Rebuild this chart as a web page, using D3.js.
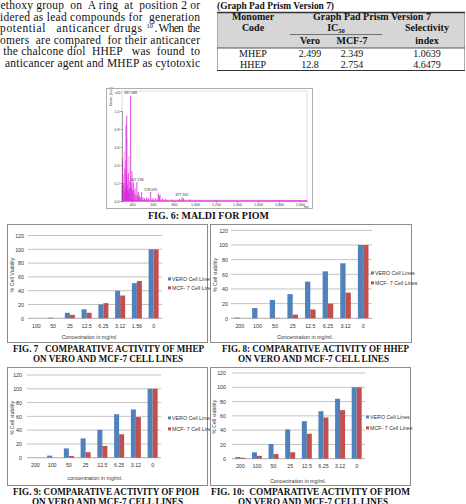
<!DOCTYPE html>
<meta charset="utf-8">

<head>
    <title>Comparative activity on VERO and MCF-7 cell lines</title>
</head>

<style>
    body {
        margin: 0;
        background-color: #fff;
    }

    svg {
        display: block;
    }

    .serif {
        font-family: "Liberation Serif", "Times New Roman", serif;
        fill: #111;
    }

    .para {
        white-space: pre;
    }

    .cap {
        font-family: "Liberation Serif", "Times New Roman", serif;
        font-weight: 700;
        font-size: 10.5px;
        fill: #111;
        white-space: pre;
    }

    .axis text {
        font-family: "Liberation Sans", Arial, sans-serif;
        font-size: 5.3px;
        fill: #333;
    }

    .axis path {
        display: none;
    }

    .small {
        font-family: "Liberation Sans", Arial, sans-serif;
        font-size: 5.3px;
        fill: #333;
    }
</style>

<body>
    <svg width="466" height="504"></svg>
</body>

<script src="https://d3js.org/d3.v7.min.js"></script>

<script>
    // text from the page
    var paraLines = [
        "ethoxy group  on  A ring  at  position 2 or",
        "idered as lead compounds for  generation",
        "potential   anticancer drugs",
        "omers  are compared  for their anticancer",
        "the chalcone diol  HHEP   was  found  to",
        "anticancer agent and MHEP as cytotoxic"
    ];

    // IC50 table
    var tblHead = ["Vero", "MCF-7"];
    var tblRows = [
        ["MHEP", "2.499", "2.349", "1.0639"],
        ["HHEP", "12.8", "2.754", "4.6479"]
    ];

    // % cell viability
    var concMhep = ["100", "50", "25", "12.5", "6.25", "3.12", "1.56", "0"];
    var concB = ["200", "100", "50", "25", "12.5", "6.25", "3.12", "0"];
    var mhepVero = [0, 1, 8, 13, 20, 40, 51, 100];
    var mhepMcf = [0, 0, 5, 8, 22, 33, 54, 100];
    var hhepVero = [1, 14, 25, 33, 50, 64, 75, 100];
    var hhepMcf = [0, 0, 0.5, 5, 12, 20, 35, 100];
    var piohVero = [0, 3, 13.5, 28, 40.5, 63, 70, 100];
    var piohMcf = [0, 0, 2.5, 8, 17, 34, 59, 100];
    var piomVero = [2.3, 9, 20.5, 41, 52.5, 66.5, 84, 100];
    var piomMcf = [1.4, 4, 6.5, 9, 35, 57.7, 68, 100];
    var yTicks = [0, 20, 40, 60, 80, 100, 120];
    var seriesNames = ["VERO Cell Lines", "MCF- 7 Cell Lines"];

    // MALDI spectrum (intensity x10^4)
    var mzVals = [306, 310, 316, 322, 327, 333, 338, 343, 347, 350, 355, 360, 365, 370, 376, 381, 387, 393, 400, 406, 413, 420,
        429, 437, 447, 453, 460, 470, 480, 492, 505, 520, 540, 555, 578, 600, 625, 650, 660, 667, 690, 720, 780, 850, 877, 890, 950, 1050, 1200];
    var intVals = [0.18, 0.47, 0.12, 0.2, 0.09, 0.36, 0.15, 0.84, 0.3, 0.95, 0.18, 0.12, 0.31, 0.1, 0.14, 0.22, 1.17, 0.15, 0.33, 0.12, 0.21, 0.08,
        0.14, 0.07, 0.21, 0.06, 0.1, 0.05, 0.04, 0.1, 0.04, 0.03, 0.04, 0.03, 0.1, 0.03, 0.03, 0.085, 0.06, 0.07, 0.03, 0.02, 0.015, 0.02, 0.04, 0.03, 0.015, 0.01, 0.008];
    var pinkMz = [319, 325, 336, 352, 362, 372, 398, 418, 470, 655];
    var pinkInt = [0.3, 0.55, 0.45, 0.7, 0.25, 0.5, 0.2, 0.12, 0.08, 0.06];
    var peakLabels = ["387.088", "447.238", "578.095", "877.342"];
    var peakLabelMz = [387, 447, 578, 877];
    var peakLabelInt = [1.17, 0.21, 0.10, 0.04];
    var mzTicks = [400, 600, 800, 1000, 1200, 1400, 1600, 1800, 2000];
    var intTicks = [0, 0.2, 0.4, 0.6, 0.8, 1.0];

    var svg = d3.select("svg");

    // ---- paragraph, left top
    var paraX = [0.5, 0, 0, 0, 3.3, 5];
    var paraY = [9, 20.5, 32, 43.5, 55, 66.5];
    paraLines.forEach(function (t, i) {
        var right = i == 2 ? 142 : 200;
        svg.append("text")
            .attr("class", "serif para")
            .attr("x", paraX[i])
            .attr("y", paraY[i])
            .attr("font-size", 11.5)
            .attr("textLength", right - paraX[i])
            .attr("lengthAdjust", "spacing")
            .text(t);
    });
    svg.append("text").attr("class", "serif").attr("x", 146.5).attr("y", 27.5).attr("font-size", 6.5).text("10");
    svg.append("text").attr("class", "serif para").attr("x", 154.5).attr("y", paraY[2]).attr("font-size", 11.5)
        .attr("textLength", 45.5).attr("lengthAdjust", "spacing").text(". When  the");

    // ---- table, right top
    svg.append("text").attr("class", "serif").attr("x", 217).attr("y", 9)
        .attr("font-size", 10).attr("font-weight", 700)
        .attr("textLength", 117).attr("lengthAdjust", "spacingAndGlyphs")
        .text("(Graph Pad Prism Version 7)");

    svg.append("rect").attr("x", 217.5).attr("y", 12.5).attr("width", 247).attr("height", 35.5)
        .attr("fill", "#d6d6d6");
    svg.append("rect").attr("x", 217.5).attr("y", 12.5).attr("width", 247).attr("height", 58)
        .attr("fill", "none").attr("stroke", "#999").attr("stroke-width", 0.8);
    svg.append("line").attr("x1", 217).attr("x2", 465).attr("y1", 12.5).attr("y2", 12.5)
        .attr("stroke", "#333").attr("stroke-width", 1.4);
    svg.append("line").attr("x1", 217).attr("x2", 465).attr("y1", 48).attr("y2", 48)
        .attr("stroke", "#444").attr("stroke-width", 0.9);
    svg.append("line").attr("x1", 217).attr("x2", 465).attr("y1", 70.5).attr("y2", 70.5)
        .attr("stroke", "#333").attr("stroke-width", 1.2);
    svg.append("line").attr("x1", 290).attr("x2", 382).attr("y1", 34.5).attr("y2", 34.5)
        .attr("stroke", "#444").attr("stroke-width", 0.7);

    var colX = [253, 310, 352, 427];
    var head = svg.append("g").attr("class", "serif").attr("font-size", 10).attr("font-weight", 700)
        .attr("text-anchor", "middle");
    head.append("text").attr("x", colX[0]).attr("y", 20).text("Monomer");
    head.append("text").attr("x", colX[0]).attr("y", 31).text("Code");
    head.append("text").attr("x", 372).attr("y", 20).text("Graph Pad Prism Version 7");
    var ic = head.append("text").attr("x", 336).attr("y", 31);
    ic.append("tspan").text("IC");
    ic.append("tspan").attr("font-size", 6.5).attr("dy", 2).text("50");
    head.append("text").attr("x", colX[3]).attr("y", 31).text("Selectivity");
    head.append("text").attr("x", colX[3]).attr("y", 44).text("index");
    head.selectAll("text.sub").data(tblHead).join("text")
        .attr("class", "sub")
        .attr("x", function (d, i) { return colX[i + 1]; })
        .attr("y", 44)
        .text(function (d) { return d; });

    svg.append("g").attr("class", "serif").attr("font-size", 10).attr("text-anchor", "middle")
        .selectAll("g").data(tblRows).join("g")
        .attr("transform", function (d, i) { return "translate(0," + (57 + i * 11) + ")"; })
        .selectAll("text").data(function (d) { return d; }).join("text")
        .attr("x", function (d, i) { return colX[i]; })
        .text(function (d) { return d; });

    // ---- MALDI spectrum
    svg.append("rect").attr("x", 106.5).attr("y", 88.5).attr("width", 206).attr("height", 120)
        .attr("fill", "#fff").attr("stroke", "#999").attr("stroke-width", 0.8);
    svg.append("rect").attr("x", 122).attr("y", 91).attr("width", 185).attr("height", 110)
        .attr("fill", "none").attr("stroke", "#bbb").attr("stroke-width", 0.5);

    var mx = d3.scaleLinear().domain([305, 2067]).range([122, 307]);
    var my = d3.scaleLinear().domain([0, 1.0]).range([201, 111]);

    var ms = svg.append("g");
    ms.append("line")
        .attr("x1", mx(305)).attr("x2", mx(2067))
        .attr("y1", my(0.008)).attr("y2", my(0.006))
        .attr("stroke", "#e030e0").attr("stroke-width", 0.8);
    ms.selectAll("line.pk2").data(pinkMz).join("line")
        .attr("class", "pk2")
        .attr("x1", function (d) { return mx(d); }).attr("x2", function (d) { return mx(d); })
        .attr("y1", my(0))
        .attr("y2", function (d, i) { return my(pinkInt[i]); })
        .attr("stroke", "#f3a3f3").attr("stroke-width", 1);
    ms.selectAll("line.pk").data(mzVals).join("line")
        .attr("class", "pk")
        .attr("x1", function (d) { return mx(d); }).attr("x2", function (d) { return mx(d); })
        .attr("y1", my(0))
        .attr("y2", function (d, i) { return my(intVals[i]); })
        .attr("stroke", "#dc1edc").attr("stroke-width", 0.8);
    ms.selectAll("text.pl").data(peakLabels).join("text")
        .attr("class", "pl")
        .attr("x", function (d, i) { return mx(peakLabelMz[i]); })
        .attr("y", function (d, i) { return my(peakLabelInt[i]) - 1.5; })
        .attr("text-anchor", "middle")
        .attr("font-family", "Liberation Sans, Arial")
        .attr("font-size", 3.6)
        .attr("fill", "#333")
        .text(function (d) { return d; });

    var mxAxis = d3.axisBottom(mx).tickValues(mzTicks).tickSize(1.5).tickPadding(1);
    var mAx = svg.append("g").attr("transform", "translate(0,201)").call(mxAxis);
    mAx.select(".domain").attr("stroke", "#555").attr("stroke-width", 0.5);
    mAx.selectAll("line").attr("stroke", "#555").attr("stroke-width", 0.5);
    mAx.selectAll("text").attr("font-size", 3.6).attr("fill", "#333");
    svg.append("text").attr("x", 304).attr("y", 207.5).attr("font-size", 3).attr("fill", "#333")
        .attr("font-family", "Liberation Sans, Arial").text("m/z");

    var myAxis = d3.axisLeft(my).tickValues(intTicks).tickSize(1.5).tickPadding(1).tickFormat(d3.format(".1f"));
    var mAy = svg.append("g").attr("transform", "translate(122,0)").call(myAxis);
    mAy.select(".domain").attr("stroke", "#555").attr("stroke-width", 0.5);
    mAy.selectAll("line").attr("stroke", "#555").attr("stroke-width", 0.5);
    mAy.selectAll("text").attr("font-size", 3.6).attr("fill", "#333");
    svg.append("text").attr("x", 115).attr("y", 93.5).attr("font-size", 3.4).attr("fill", "#333")
        .attr("font-family", "Liberation Sans, Arial").text("x10⁴");
    svg.append("text")
        .attr("transform", "translate(111.5,97) rotate(-90)")
        .attr("text-anchor", "middle")
        .attr("font-size", 3.4).attr("fill", "#333")
        .attr("font-family", "Liberation Sans, Arial")
        .text("Intens. [a.u.]");

    // ---- bar charts
    function barChart(cfg) {
        var g = svg.append("g");

        g.append("rect")
            .attr("x", cfg.box[0] + 0.5).attr("y", cfg.box[1] + 0.5)
            .attr("width", cfg.box[2]).attr("height", cfg.box[3])
            .attr("fill", "#fff").attr("stroke", "#8c8c8c").attr("stroke-width", 1);

        var x = d3.scaleBand().domain(cfg.conc).range([cfg.x0, cfg.x1])
            .paddingInner(0.4).paddingOuter(0.2);
        var xs = d3.scaleBand().domain([0, 1]).range([0, x.bandwidth()]);
        var y = d3.scaleLinear().domain([0, 120]).range([cfg.yZero, cfg.yTop]);

        g.selectAll("line.grid").data(yTicks).join("line")
            .attr("class", "grid")
            .attr("x1", cfg.x0).attr("x2", cfg.x1)
            .attr("y1", function (d) { return y(d); })
            .attr("y2", function (d) { return y(d); })
            .attr("stroke", function (d) { return d == 0 ? "#888" : "#a9a9a9"; })
            .attr("stroke-width", 0.7);

        var yAxis = d3.axisLeft(y).tickValues(yTicks).tickSize(0).tickPadding(cfg.x0 - cfg.yLabX);
        g.append("g").attr("class", "axis")
            .attr("transform", "translate(" + cfg.x0 + ",0)")
            .call(yAxis);

        var xAxis = d3.axisBottom(x).tickSize(0).tickPadding(cfg.xLabY - cfg.yZero - 5);
        g.append("g").attr("class", "axis")
            .attr("transform", "translate(0," + cfg.yZero + ")")
            .call(xAxis);

        var rows = cfg.conc.map(function (c, i) {
            return { conc: c, vals: [cfg.vero[i], cfg.mcf[i]] };
        });
        var colors = ["#4f81bd", "#c0504d"];

        g.selectAll("g.grp").data(rows).join("g")
            .attr("class", "grp")
            .attr("transform", function (d) { return "translate(" + x(d.conc) + ",0)"; })
            .selectAll("rect").data(function (d) { return d.vals; }).join("rect")
            .attr("x", function (d, i) { return xs(i); })
            .attr("width", xs.bandwidth())
            .attr("y", function (d) { return y(d); })
            .attr("height", function (d) { return y(0) - y(d); })
            .attr("fill", function (d, i) { return colors[i]; });

        var leg = g.selectAll("g.leg").data(seriesNames).join("g")
            .attr("class", "leg")
            .attr("transform", function (d, i) { return "translate(" + cfg.legX + "," + cfg.legY[i] + ")"; });
        leg.append("rect").attr("x", 0).attr("y", -1.6).attr("width", 3).attr("height", 3)
            .attr("fill", function (d, i) { return colors[i]; });
        leg.append("text").attr("class", "small").attr("x", 4).attr("y", 1.8)
            .attr("font-size", 4.8)
            .text(function (d) { return d; });

        g.append("text").attr("class", "small")
            .attr("x", cfg.xTitleX).attr("y", cfg.xTitleY)
            .attr("text-anchor", "middle")
            .attr("font-size", 5.5)
            .text(cfg.xTitle);

        g.append("text").attr("class", "small")
            .attr("transform", "translate(" + cfg.yTitleX + "," + cfg.yTitleMid + ") rotate(-90)")
            .attr("text-anchor", "middle")
            .attr("font-size", 5.5)
            .text(cfg.yTitle);
    }

    barChart({
        box: [7, 224, 200, 118], conc: concMhep, vero: mhepVero, mcf: mhepMcf,
        x0: 28, x1: 162, yZero: 318.3, yTop: 235.5, yLabX: 24,
        xLabY: 329, legX: 168, legY: [279, 288],
        xTitle: "Concentration in mg/ml", xTitleX: 89, xTitleY: 339,
        yTitle: "% Cell Viability", yTitleX: 14, yTitleMid: 275
    });
    barChart({
        box: [210, 224, 201, 118], conc: concB, vero: hhepVero, mcf: hhepMcf,
        x0: 231, x1: 372, yZero: 318.3, yTop: 230.3, yLabX: 228,
        xLabY: 329, legX: 371, legY: [273, 283],
        xTitle: "Concentration in mg/ml.", xTitleX: 305, xTitleY: 339,
        yTitle: "% Cell viability", yTitleX: 217, yTitleMid: 275
    });
    barChart({
        box: [7, 367, 200, 118], conc: concB, vero: piohVero, mcf: piohMcf,
        x0: 27, x1: 161, yZero: 457.7, yTop: 375, yLabX: 22,
        xLabY: 468, legX: 168, legY: [418, 429],
        xTitle: "concentration in mg/ml.", xTitleX: 95, xTitleY: 480,
        yTitle: "% Cell viability", yTitleX: 14, yTitleMid: 418
    });
    barChart({
        box: [210, 367, 200, 118], conc: concB, vero: piomVero, mcf: piomMcf,
        x0: 232, x1: 365, yZero: 458.7, yTop: 373, yLabX: 226,
        xLabY: 469, legX: 366, legY: [417, 428],
        xTitle: "Concentration in mg/ml.", xTitleX: 298, xTitleY: 483,
        yTitle: "% Cell viability", yTitleX: 216, yTitleMid: 417
    });

    // ---- captions
    var caps = [
        ["FIG. 6: MALDI FOR PIOM", 148, 269, 219],
        ["FIG. 7   COMPARATIVE ACTIVITY OF MHEP", 13, 204, 351.5],
        ["ON VERO AND MCF-7 CELL LINES", 33, 183, 361.5],
        ["FIG. 8: COMPARATIVE ACTIVITY OF HHEP", 222, 409, 351.5],
        ["ON VERO AND MCF-7 CELL LINES", 238, 389, 361.5],
        ["FIG. 9: COMPARATIVE ACTIVITY OF PIOH", 13, 199, 495],
        ["ON VERO AND MCF-7 CELL LINES", 32, 183, 505],
        ["FIG. 10:  COMPARATIVE ACTIVITY OF PIOM", 211, 410, 495],
        ["ON VERO AND MCF-7 CELL LINES", 238, 388, 505]
    ];
    svg.selectAll("text.capt").data(caps).join("text")
        .attr("class", "cap capt")
        .attr("x", function (d) { return d[1]; })
        .attr("y", function (d) { return d[3]; })
        .attr("textLength", function (d) { return d[2] - d[1]; })
        .attr("lengthAdjust", "spacingAndGlyphs")
        .text(function (d) { return d[0]; });
</script>
